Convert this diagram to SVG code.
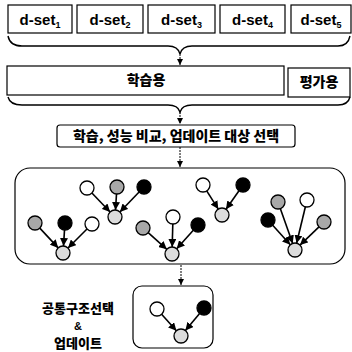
<svg xmlns="http://www.w3.org/2000/svg" width="352" height="352" viewBox="0 0 352 352">
<defs>
<marker id="ah" markerUnits="userSpaceOnUse" markerWidth="8" markerHeight="8" refX="8" refY="4" orient="auto"><path d="M0,0 L8,4 L0,8 z" fill="#000"/></marker>
<marker id="sa" markerUnits="userSpaceOnUse" markerWidth="6" markerHeight="6" refX="6" refY="3" orient="auto"><path d="M0,0 L6,3 L0,6 z" fill="#000"/></marker>
<style>
.box{fill:#fff;stroke:#000;stroke-width:1.2}
.lbl{font-family:"Liberation Sans",Arial,sans-serif;font-weight:bold;font-size:15px;fill:#000;text-anchor:middle}
.ko{font-family:"Noto Sans CJK KR","Noto Sans",sans-serif;font-weight:900;font-size:14px;fill:#000;text-anchor:middle}
.ko13{font-family:"Noto Sans CJK KR","Noto Sans",sans-serif;font-weight:900;font-size:13px;fill:#000;text-anchor:middle}
.amp{font-family:"Liberation Sans",Arial,sans-serif;font-weight:bold;font-size:11px;fill:#000;text-anchor:middle}
.brace{fill:none;stroke:#000;stroke-width:1.4}
.dash{fill:none;stroke:#000;stroke-width:1;stroke-dasharray:2 1}
.e{stroke:#000;stroke-width:1.6;marker-end:url(#ah)}
.n{stroke:#000;stroke-width:1.3}
.w{fill:#fff}.b{fill:#000}.g{fill:#a8a8a8}.c{fill:#dcdcdc}
</style>
</defs>
<g id="dset1"><rect class="box" x="8" y="5" width="64" height="28"/><text class="lbl" x="40" y="25">d-set<tspan font-size="9" dy="3">1</tspan></text></g>
<g id="dset2"><rect class="box" x="77" y="5" width="66" height="28"/><text class="lbl" x="110" y="25">d-set<tspan font-size="9" dy="3">2</tspan></text></g>
<g id="dset3"><rect class="box" x="148" y="5" width="67" height="28"/><text class="lbl" x="181.5" y="25">d-set<tspan font-size="9" dy="3">3</tspan></text></g>
<g id="dset4"><rect class="box" x="220" y="5" width="65" height="28"/><text class="lbl" x="252.5" y="25">d-set<tspan font-size="9" dy="3">4</tspan></text></g>
<g id="dset5"><rect class="box" x="291" y="5" width="60" height="28"/><text class="lbl" x="321" y="25">d-set<tspan font-size="9" dy="3">5</tspan></text></g>
<g id="train"><rect class="box" x="7" y="66" width="277" height="29"/><text class="ko" x="146" y="85">학습용</text></g>
<g id="eval"><rect class="box" x="288" y="68" width="62" height="29"/><text class="ko" x="319" y="87">평가용</text></g>
<g id="select"><rect class="box" x="57" y="125" width="238" height="22" rx="3"/><text class="ko" x="176" y="141">학습, 성능 비교, 업데이트 대상 선택</text></g>
<g id="candidates"><rect class="box" x="15" y="168" width="330" height="96" rx="15"/></g>
<g id="result"><rect class="box" x="133" y="286" width="80" height="62" rx="9"/></g>
<g id="resultLabel"><text class="ko13" x="78" y="313">공통구조선택</text><text class="amp" x="78" y="330">&amp;</text><text class="ko13" x="78" y="347.5">업데이트</text></g>
<g id="connectors">
<path class="brace" d="M8,36 Q10,46 22,46 L168,46 Q178,46 180,54 Q182,46 192,46 L338,46 Q348,46 350,36"/>
<line class="dash" x1="180" y1="54" x2="180" y2="65" marker-end="url(#sa)"/>
<path class="brace" d="M8,97 Q10,105 22,105 L168,105 Q178,105 180,112 Q182,105 192,105 L338,105 Q348,105 350,97"/>
<line class="dash" x1="180" y1="112" x2="180" y2="124" marker-end="url(#sa)"/>
<line class="dash" x1="180" y1="147" x2="180" y2="167" marker-end="url(#sa)"/>
<line class="dash" x1="181" y1="265" x2="181" y2="285" marker-end="url(#sa)"/>
</g>
<g id="treeA">
<line class="e" x1="91.9" y1="193" x2="110.1" y2="212"/><line class="e" x1="116.5" y1="194" x2="115.5" y2="210"/><line class="e" x1="139.1" y1="192" x2="119.9" y2="212"/>
<circle class="n w" cx="87" cy="188" r="7"/><circle class="n g" cx="117" cy="187" r="7"/><circle class="n b" cx="144" cy="187" r="7"/><circle class="n c" cx="115" cy="217" r="7"/>
</g>
<g id="treeB">
<line class="e" x1="206.7" y1="190.9" x2="218.3" y2="209.1"/><line class="e" x1="239" y1="190.7" x2="226" y2="209.3"/>
<circle class="n w" cx="203" cy="185" r="7"/><circle class="n b" cx="243" cy="185" r="7"/><circle class="n c" cx="222" cy="215" r="7"/>
</g>
<g id="treeC">
<line class="e" x1="39.8" y1="228.1" x2="58.2" y2="247.9"/><line class="e" x1="64.5" y1="230" x2="63.5" y2="246"/><line class="e" x1="87" y1="229" x2="68" y2="248"/>
<circle class="n g" cx="35" cy="223" r="7"/><circle class="n b" cx="65" cy="223" r="7"/><circle class="n w" cx="92" cy="224" r="7"/><circle class="n c" cx="63" cy="253" r="7"/>
</g>
<g id="treeD">
<line class="e" x1="148.2" y1="232.7" x2="166.8" y2="249.3"/><line class="e" x1="172.8" y1="224" x2="172.2" y2="247"/><line class="e" x1="193.3" y1="230.2" x2="176.7" y2="248.8"/>
<circle class="n g" cx="143" cy="228" r="7"/><circle class="n w" cx="173" cy="217" r="7"/><circle class="n b" cx="198" cy="225" r="7"/><circle class="n c" cx="172" cy="254" r="7"/>
</g>
<g id="treeE">
<line class="e" x1="272.7" y1="225.2" x2="290.3" y2="244.8"/><line class="e" x1="280.3" y1="208.6" x2="292.7" y2="243.4"/><line class="e" x1="305.4" y1="206.8" x2="296.6" y2="243.2"/><line class="e" x1="319" y1="226.9" x2="300" y2="245.1"/>
<circle class="n b" cx="268" cy="220" r="7"/><circle class="n g" cx="278" cy="202" r="7"/><circle class="n w" cx="307" cy="200" r="7"/><circle class="n g" cx="324" cy="222" r="7"/><circle class="n c" cx="295" cy="250" r="7"/>
</g>
<g id="treeResult">
<line class="e" x1="161.6" y1="314.2" x2="176.4" y2="330.8"/><line class="e" x1="199.6" y1="313.4" x2="185.4" y2="330.6"/>
<circle class="n w" cx="157" cy="309" r="7"/><circle class="n b" cx="204" cy="308" r="7"/><circle class="n c" cx="181" cy="336" r="7"/>
</g>
</svg>
